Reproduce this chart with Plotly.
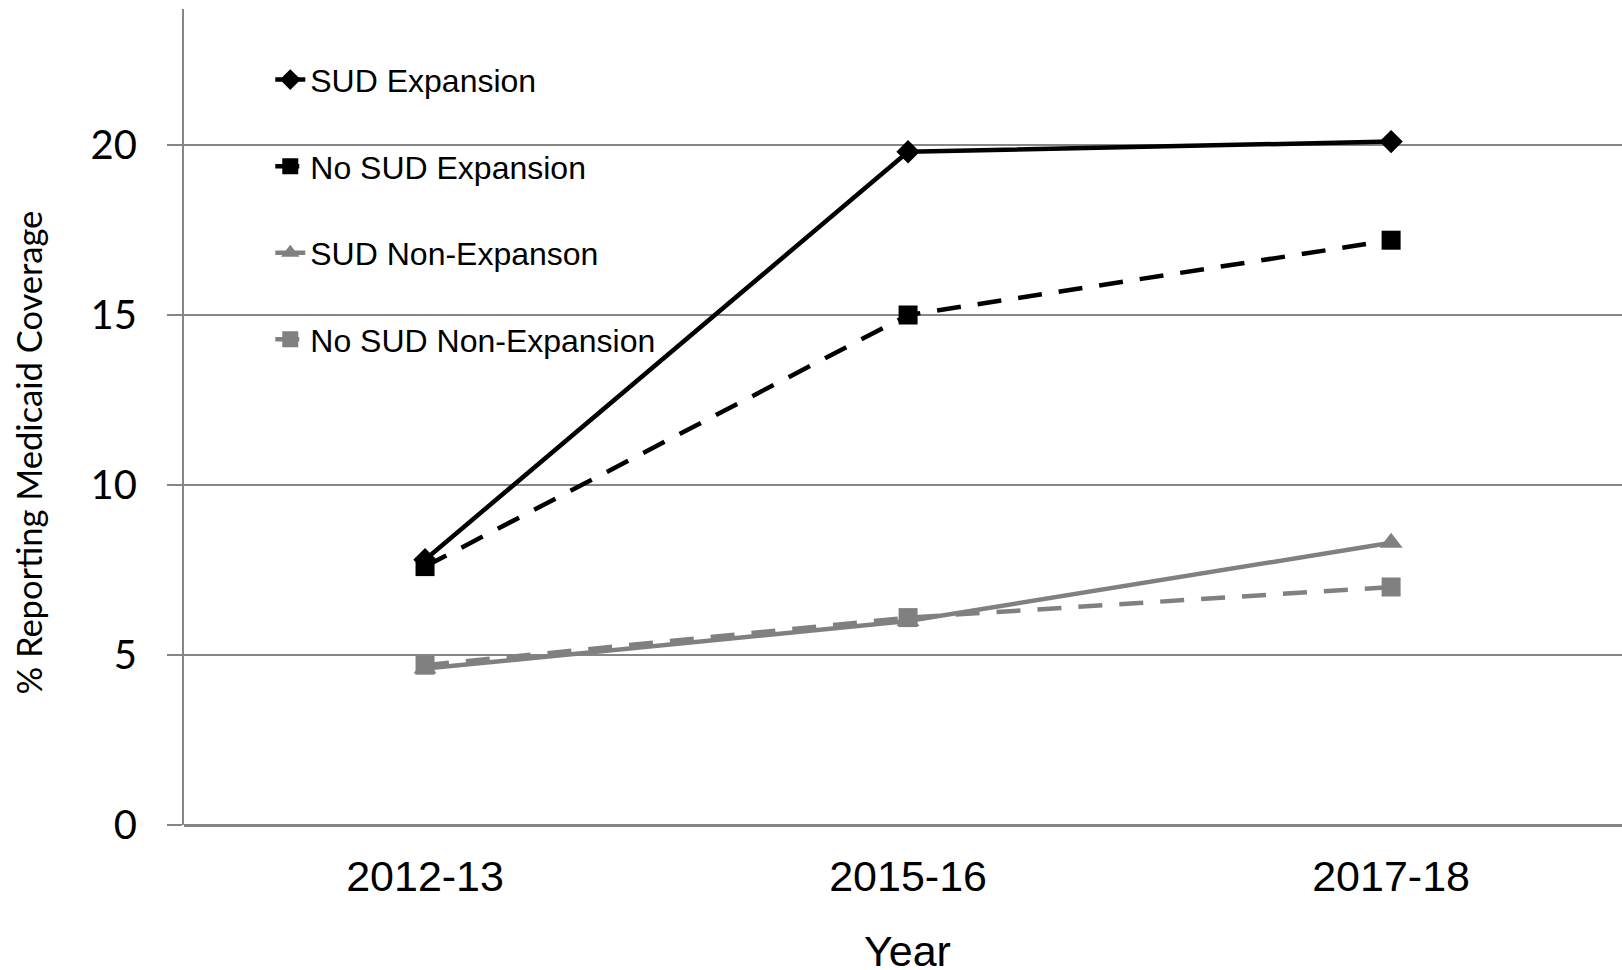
import plotly.graph_objects as go

years = ["2012-13", "2015-16", "2017-18"]
sud_expansion = [7.8, 19.8, 20.1]
no_sud_expansion = [7.6, 15.0, 17.2]
sud_non_expansion = [4.6, 6.0, 8.3]
no_sud_non_expansion = [4.7, 6.1, 7.0]
y_ticks = [0, 5, 10, 15, 20]

BLACK = "#000000"
GRAY = "#808080"
GRID = "#868686"

fig = go.Figure()
fig.add_trace(go.Scatter(x=years, y=no_sud_non_expansion, name="No SUD Non-Expansion",
                         mode="lines+markers", legendrank=4, legendgroup="d",
                         line=dict(color=GRAY, width=4.5, dash="24px,17px"),
                         marker=dict(symbol="square", size=19, color=GRAY)))
fig.add_trace(go.Scatter(x=years, y=sud_non_expansion, name="SUD Non-Expanson",
                         mode="lines+markers", legendrank=3, legendgroup="c",
                         line=dict(color=GRAY, width=4.5),
                         marker=dict(symbol="triangle-up", size=20, color=GRAY)))
fig.add_trace(go.Scatter(x=years, y=no_sud_expansion, name="No SUD Expansion",
                         mode="lines+markers", legendrank=2, legendgroup="b",
                         line=dict(color=BLACK, width=4.5, dash="24px,17px"),
                         marker=dict(symbol="square", size=19, color=BLACK)))
fig.add_trace(go.Scatter(x=years, y=sud_expansion, name="SUD Expansion",
                         mode="lines+markers", legendrank=1, legendgroup="a",
                         line=dict(color=BLACK, width=4.5),
                         marker=dict(symbol="diamond", size=18, color=BLACK)))

fig.update_layout(
    width=1622, height=970,
    margin=dict(l=184, r=0, t=9, b=145, autoexpand=False),
    paper_bgcolor="white", plot_bgcolor="white",
    font=dict(family="Liberation Sans, Arial, sans-serif", color="black"),
    showlegend=True,
    legend=dict(x=0.06, y=0.947, xanchor="left", yanchor="top",
                font=dict(family="Liberation Sans, Arial, sans-serif", size=32, color="black"),
                bgcolor="rgba(0,0,0,0)", tracegroupgap=42, itemwidth=30,
                traceorder="grouped"),
    xaxis=dict(type="category", range=[-0.499, 2.478], showgrid=False,
               showline=False, zeroline=False, ticks="", automargin=False,
               tickfont=dict(family="Liberation Sans, Arial, sans-serif", size=43),
               ticklabelstandoff=22),
    yaxis=dict(range=[0, 24], tickvals=y_ticks, showgrid=True, gridcolor=GRID, gridwidth=2,
               showline=True, linecolor=GRID, linewidth=2, zeroline=True, automargin=False,
               zerolinecolor=GRID, zerolinewidth=3,
               ticks="outside", ticklen=15, tickcolor=GRID, tickwidth=2,
               tickfont=dict(family="Lato, sans-serif", size=40),
               ticklabelstandoff=22),
)

fig.add_annotation(text="Year", xref="paper", yref="paper",
                   x=0.503, y=-0.155, xanchor="center", yanchor="middle",
                   showarrow=False, font=dict(family="Liberation Sans, Arial, sans-serif", size=43, color="black"))
fig.add_annotation(text="% Reporting Medicaid Coverage", xref="paper", yref="paper",
                   x=-0.108, y=0.456, xanchor="center", yanchor="middle", textangle=-90,
                   showarrow=False, font=dict(family="Lato, sans-serif", size=34.5, color="black"))

fig.write_html("out.html", config={"displayModeBar": False},
               post_script="document.body.style.margin='0';document.body.style.overflow='hidden';")
